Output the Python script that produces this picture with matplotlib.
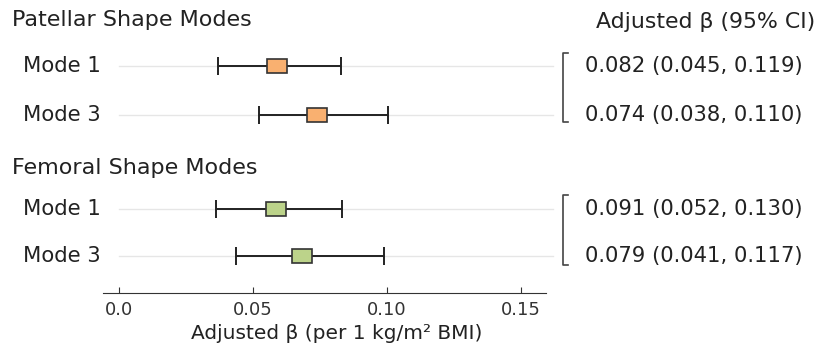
import numpy as np
import matplotlib.pyplot as plt
import matplotlib.transforms as mtransforms

groups = ["Patellar Shape Modes", "Femoral Shape Modes"]
modes = ["Mode 1", "Mode 3", "Mode 1", "Mode 3"]
# estimates and CI as drawn on the axis
beta = [0.059, 0.0737, 0.0584, 0.0681]
ci_low = [0.0369, 0.0522, 0.0362, 0.0437]
ci_high = [0.0828, 0.1004, 0.0832, 0.0989]
# annotation text as printed
labels = ["0.082 (0.045, 0.119)", "0.074 (0.038, 0.110)",
          "0.091 (0.052, 0.130)", "0.079 (0.041, 0.117)"]
xticks = [0.0, 0.05, 0.10, 0.15]
xticklabels = ["0.0", "0.05", "0.10", "0.15"]

colors = ["#F9B070", "#F9B070", "#BCD38A", "#BCD38A"]
rows = [66, 115, 209, 256]      # layout (pixel rows)
title_rows = [20, 168]

plt.rcParams['font.family'] = ['DejaVu Sans']
fig = plt.figure(figsize=(8.19, 3.5), dpi=100)
ax = fig.add_axes([103 / 819, 1 - 293 / 350, 443 / 819, 293 / 350])
ax.set_xlim(-0.006, 0.1593)
ax.set_ylim(293, 0)

for y in rows:
    ax.plot([0.0, 0.162], [y, y], color="#e6e6e6", lw=1, zorder=0, clip_on=False)

ax.errorbar(beta, rows, xerr=[np.array(beta) - np.array(ci_low), np.array(ci_high) - np.array(beta)],
            fmt="none", ecolor="#222222", elinewidth=1.4, capsize=6.5, capthick=1.4, zorder=2)
w = 0.0075
ax.barh(rows, w, left=np.array(beta) - w / 2, height=14, color=colors,
        edgecolor="#333333", linewidth=1.2, zorder=3)

for s in ["top", "right", "left"]:
    ax.spines[s].set_visible(False)
ax.spines["bottom"].set_color("#333333")
ax.set_yticks([])
ax.set_xticks(xticks)
ax.set_xticklabels(xticklabels)
ax.tick_params(axis="x", direction="in", length=4, labelsize=13, pad=6, colors="#333333")
ax.set_xlabel("Adjusted β (per 1 kg/m² BMI)", fontsize=14.5, labelpad=7, color="#222222")
ax.xaxis.set_label_coords(0.528, -0.105)

trans = mtransforms.blended_transform_factory(fig.transFigure, ax.transData)
for g, y in zip(groups, title_rows):
    ax.text(12 / 819, y, g, transform=trans, fontsize=16, va="center", ha="left", color="#222222")
for m, y in zip(modes, rows):
    ax.text(101 / 819, y, m, transform=trans, fontsize=15.2, va="center", ha="right", color="#222222")
for lab, y in zip(labels, rows):
    ax.text(585 / 819, y, lab, transform=trans, fontsize=15.2, va="center", ha="left", color="#222222")
ax.text(815 / 819, title_rows[0] + 2, "Adjusted β (95% CI)", transform=trans, fontsize=15.8,
        va="center", ha="right", color="#222222")

# brackets
for top, bot in [(rows[0] - 13, rows[1] + 7), (rows[2] - 14, rows[3] + 9)]:
    bx, tx = 563 / 819, 568 / 819
    ax.plot([tx, bx, bx, tx], [top, top, bot, bot], transform=trans, color="#444444",
            lw=1.2, clip_on=False)

fig.savefig("out.png", dpi=100)
